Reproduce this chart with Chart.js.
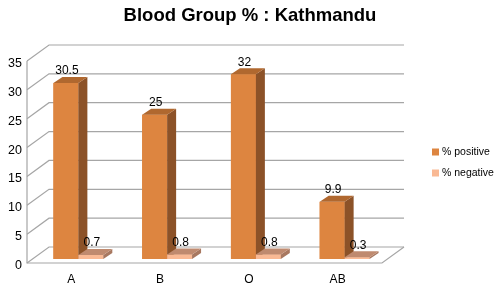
<!DOCTYPE html>
<html>
<head>
<meta charset="utf-8">
<script src="https://cdn.jsdelivr.net/npm/chart.js@4.4.1/dist/chart.umd.min.js"></script>
<style>
  html, body { margin: 0; padding: 0; background: #fff; }
  #wrap { width: 500px; height: 289px; position: relative; }
</style>
</head>
<body>
<div id="wrap"><canvas id="chart"></canvas></div>
<script>
const categories = ["A", "B", "O", "AB"];
const positive = [30.5, 25, 32, 9.9];
const negative = [0.7, 0.8, 0.8, 0.3];
const seriesNames = ["% positive", "% negative"];
const yTicks = [0, 5, 10, 15, 20, 25, 30, 35];
const chartTitle = "Blood Group % : Kathmandu";

const FONT = "'Liberation Sans', Arial, sans-serif";

// fake 3d: bars sit between the front and back planes
const FRONT = { dx: -7, dy: 4 };
const BACK = { dx: 15, dy: -12 };
const DEPTH = { dx: 9, dy: -6 };

const faces = [
  { front: "#dd8540", top: "#b0682f", side: "#8c5228" },
  { front: "#f9b994", top: "#bf8a6f", side: "#a87860" },
];

const box3d = {
  id: "box3d",
  beforeDatasetsDraw(chart) {
    const { ctx, chartArea: a, scales } = chart;
    const y = scales.y;
    ctx.save();
    ctx.lineWidth = 1.2;
    ctx.strokeStyle = "#a6a6a6";
    yTicks.forEach((v) => {
      const py = y.getPixelForValue(v);
      ctx.beginPath();
      ctx.moveTo(a.left + FRONT.dx, py + FRONT.dy);
      ctx.lineTo(a.left + BACK.dx, py + BACK.dy);
      ctx.lineTo(a.right + BACK.dx, py + BACK.dy);
      ctx.stroke();
    });
    const top = y.getPixelForValue(yTicks[yTicks.length - 1]);
    const base = y.getPixelForValue(0);
    ctx.beginPath();
    ctx.moveTo(a.left + FRONT.dx, top + FRONT.dy);
    ctx.lineTo(a.left + FRONT.dx, base + FRONT.dy);
    ctx.lineTo(a.right + FRONT.dx, base + FRONT.dy);
    ctx.lineTo(a.right + BACK.dx, base + BACK.dy);
    ctx.stroke();
    ctx.restore();
  },
  afterDatasetsDraw(chart) {
    const { ctx } = chart;
    const metas = [chart.getDatasetMeta(0), chart.getDatasetMeta(1)];
    ctx.save();
    categories.forEach((c, i) => {
      metas.forEach((meta, d) => {
        const bar = meta.data[i];
        const col = faces[d];
        const l = bar.x - bar.width / 2;
        const r = bar.x + bar.width / 2;
        const t = bar.y;
        const b = bar.base;
        ctx.fillStyle = col.front;
        ctx.fillRect(l, t, r - l, b - t);
        ctx.fillStyle = col.side;
        ctx.beginPath();
        ctx.moveTo(r, t);
        ctx.lineTo(r + DEPTH.dx, t + DEPTH.dy);
        ctx.lineTo(r + DEPTH.dx, b + DEPTH.dy);
        ctx.lineTo(r, b);
        ctx.closePath();
        ctx.fill();
        ctx.fillStyle = col.top;
        ctx.beginPath();
        ctx.moveTo(l, t);
        ctx.lineTo(l + DEPTH.dx, t + DEPTH.dy);
        ctx.lineTo(r + DEPTH.dx, t + DEPTH.dy);
        ctx.lineTo(r, t);
        ctx.closePath();
        ctx.fill();
      });
    });
    // value labels
    ctx.fillStyle = "#000";
    ctx.font = "12px " + FONT;
    ctx.textAlign = "center";
    ctx.textBaseline = "middle";
    metas.forEach((meta, d) => {
      const vals = chart.data.datasets[d].data;
      meta.data.forEach((bar, i) => {
        ctx.fillText(String(vals[i]), bar.x + 1, bar.y - 12);
      });
    });
    // legend
    ctx.font = "10.5px " + FONT;
    ctx.textAlign = "left";
    const ly = [152, 173];
    seriesNames.forEach((name, d) => {
      ctx.fillStyle = faces[d].front;
      ctx.fillRect(432, ly[d] - 3.5, 7, 7);
      ctx.fillStyle = "#000";
      ctx.fillText(name, 442, ly[d] + 0.5);
    });
    // title, centred on the whole canvas
    ctx.font = "bold 18.5px " + FONT;
    ctx.textAlign = "center";
    ctx.fillText(chartTitle, chart.width / 2, 16);
    ctx.restore();
  },
};

new Chart(document.getElementById("chart"), {
  type: "bar",
  data: {
    labels: categories,
    datasets: [
      { label: seriesNames[0], data: positive, backgroundColor: faces[0].front },
      { label: seriesNames[1], data: negative, backgroundColor: faces[1].front },
    ],
  },
  options: {
    responsive: true,
    maintainAspectRatio: false,
    animation: false,
    layout: { padding: { left: 0, right: 111, top: 57, bottom: 0 } },
    categoryPercentage: 0.562,
    barPercentage: 1.0,
    scales: {
      x: {
        grid: { display: false },
        border: { display: false },
        ticks: { color: "#000", font: { size: 12, family: FONT }, padding: 5, labelOffset: FRONT.dx },
        afterFit: (s) => { s.height = 30; },
      },
      y: {
        min: 0,
        max: 35,
        grid: { display: false },
        border: { display: false },
        ticks: { stepSize: 5, color: "#000", font: { size: 12.5, family: FONT }, padding: 4, labelOffset: 6.5 },
        afterFit: (s) => { s.width = 34; },
      },
    },
    plugins: {
      legend: { display: false },
      tooltip: { enabled: false },
      title: { display: false },
    },
  },
  plugins: [box3d],
});
</script>
</body>
</html>
